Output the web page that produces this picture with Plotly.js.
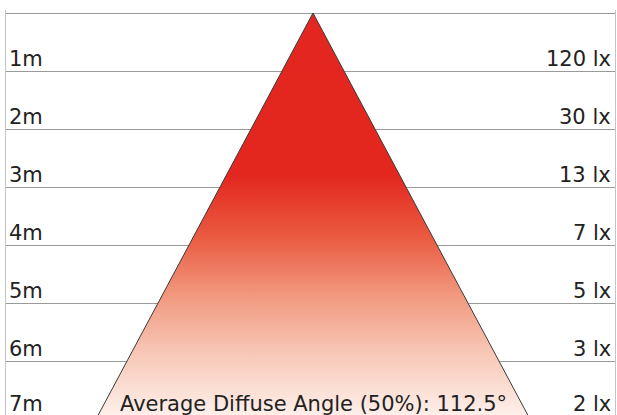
<!DOCTYPE html>
<html>
<head>
<meta charset="utf-8">
<script src="https://cdn.plot.ly/plotly-3.0.1.min.js"></script>
<style>
  html, body { margin: 0; padding: 0; overflow: hidden; background: #fff; }
  #chart { width: 617px; height: 425px; }
</style>
</head>
<body>
<div id="chart"></div>
<script>
// ---- data ----
const distances = [0, 1, 2, 3, 4, 5, 6, 7];
const distLabels = ['1m', '2m', '3m', '4m', '5m', '6m', '7m'];
const luxLabels = ['120 lx', '30 lx', '13 lx', '7 lx', '5 lx', '3 lx', '2 lx'];
const labelDist = [1, 2, 3, 4, 5, 6, 7];
const beamX = [-3.74, 0, 3.74, -3.74];
const beamY = [7, 0, 7, 7];
const angleText = 'Average Diffuse Angle (50%): 112.5°';

const font = { family: 'DejaVu Sans, sans-serif', size: 21, color: '#222222', weight: 400 };

const traces = [{
  type: 'scatter',
  mode: 'lines',
  x: beamX,
  y: beamY,
  fill: 'toself',
  fillgradient: {
    type: 'vertical',
    start: 0,
    stop: 7,
    colorscale: [
      [0, '#e3261f'],
      [0.40, '#e3271f'],
      [0.55, '#ea5a40'],
      [0.70, '#f19a80'],
      [0.85, '#f8cbbb'],
      [1, '#fef2ed']
    ]
  },
  line: { color: '#3a3a3a', width: 1 },
  hoverinfo: 'skip',
  showlegend: false
}];

const annotations = [];
labelDist.forEach((d, i) => {
  const ys = d === 7 ? 1 : -2;
  annotations.push({
    xref: 'paper', yref: 'y', x: 0, y: d,
    xanchor: 'left', yanchor: 'bottom', xshift: 1, yshift: ys,
    text: distLabels[i], showarrow: false, font: font
  });
  annotations.push({
    xref: 'paper', yref: 'y', x: 1, y: d,
    xanchor: 'right', yanchor: 'bottom', xshift: -2, yshift: ys,
    text: luxLabels[i], showarrow: false, font: font
  });
});
annotations.push({
  xref: 'x', yref: 'y', x: 0, y: 7,
  xanchor: 'center', yanchor: 'bottom', yshift: 1,
  text: angleText, showarrow: false, font: font
});

const pxPerM = 58;
const layout = {
  width: 617, height: 425,
  margin: { l: 6, r: 2, t: 10, b: 0, pad: 0 },
  paper_bgcolor: '#ffffff',
  plot_bgcolor: '#ffffff',
  showlegend: false,
  xaxis: {
    range: [-307 / pxPerM, 302 / pxPerM],
    showgrid: false, zeroline: false, showticklabels: false, ticks: '',
    showline: false, fixedrange: true
  },
  yaxis: {
    range: [412 / pxPerM, -3 / pxPerM],
    tickmode: 'array', tickvals: distances,
    showgrid: true, gridcolor: '#9a9a9a', gridwidth: 1,
    zeroline: false, showticklabels: false, ticks: '',
    showline: true, mirror: true, linecolor: '#c4c4c4', linewidth: 1,
    fixedrange: true
  },
  annotations: annotations
};

Plotly.newPlot('chart', traces, layout, { displayModeBar: false, staticPlot: true });
</script>
</body>
</html>
